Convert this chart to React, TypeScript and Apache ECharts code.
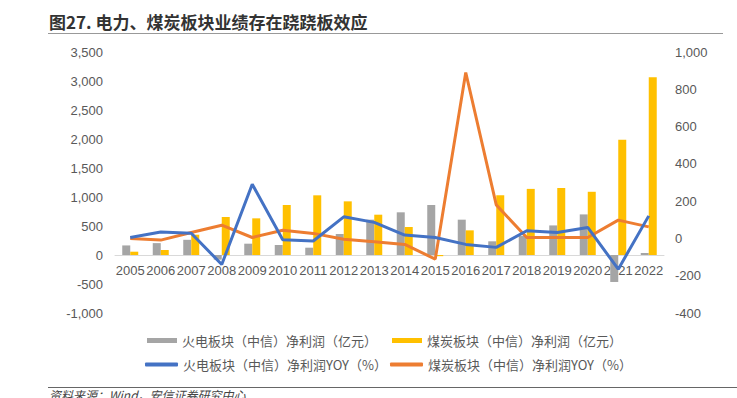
import React, { useEffect, useRef } from "react";
import * as echarts from "echarts";

const years = ["2005","2006","2007","2008","2009","2010","2011","2012","2013","2014","2015","2016","2017","2018","2019","2020","2021","2022"];
const thermalProfit = [165, 205, 262, -80, 195, 172, 126, 362, 609, 736, 862, 609, 236, 330, 510, 700, -465, 35];
const coalProfit = [57, 86, 350, 655, 632, 862, 1029, 925, 695, 483, -20, 425, 1030, 1140, 1155, 1090, 1985, 3065];
const thermalYoY = [5, 35, 28, -140, 291, -7, -14, 116, 86, 18, 5, -32, -48, 41, 32, 59, -165, 121];
const coalYoY = [0, -9, 32, 71, 5, 44, 27, -4, -18, -32, -111, 890, 180, 5, 5, 5, 98, 62];

const names = [
  "火电板块（中信）净利润（亿元）",
  "煤炭板块（中信）净利润（亿元）",
  "火电板块（中信）净利润YOY（%）",
  "煤炭板块（中信）净利润YOY（%）",
];
const colors = ["#A5A5A5", "#FFC000", "#4472C4", "#ED7D31"];

const fmt = (v: number) => v.toLocaleString("en-US");
const txt = "#595959";
const fontFamily = "'Liberation Sans', Arial, 'Noto Sans CJK SC', sans-serif";
const cjkFamily = "'Noto Sans CJK SC', sans-serif";

export default function App() {
  const ref = useRef<HTMLDivElement>(null);
  useEffect(() => {
    if (!ref.current) return;
    const chart = echarts.init(ref.current, undefined, { renderer: "svg" });
    const legendBase = {
      orient: "horizontal" as const,
      padding: 0,
      itemGap: 0,
      textStyle: { color: txt, fontSize: 13, fontFamily: cjkFamily },
    };
    const gridTop = 52;
    const gridBottom = 85;
    const gridHeight = 398 - gridTop - gridBottom;
    const zeroOffset = -Math.round((gridHeight * 1000) / 4500);
    chart.setOption({
      animation: false,
      backgroundColor: "#ffffff",
      textStyle: { fontFamily },
      grid: { left: 115, right: 73, top: gridTop, bottom: gridBottom, containLabel: false },
      legend: [
        { ...legendBase, data: [{ name: names[0], icon: "rect" }], left: 147, top: 334, itemWidth: 30, itemHeight: 5 },
        { ...legendBase, data: [{ name: names[1], icon: "rect" }], left: 392, top: 334, itemWidth: 30, itemHeight: 5 },
        { ...legendBase, data: [{ name: names[2], icon: "roundRect" }], left: 145, top: 358, itemWidth: 33, itemHeight: 4 },
        { ...legendBase, data: [{ name: names[3], icon: "roundRect" }], left: 390, top: 358, itemWidth: 33, itemHeight: 4 },
      ],
      xAxis: {
        type: "category",
        data: years,
        position: "bottom",
        offset: zeroOffset,
        axisLine: { onZero: false, lineStyle: { color: "#D9D9D9", width: 1 } },
        axisTick: { show: false },
        axisLabel: { color: txt, fontSize: 13, margin: 9, interval: 0, fontFamily },
        splitLine: { show: false },
      },
      yAxis: [
        {
          type: "value",
          min: -1000,
          max: 3500,
          interval: 500,
          axisLine: { show: false },
          axisTick: { show: false },
          splitLine: { show: false },
          axisLabel: { color: txt, fontSize: 13, margin: 12, formatter: fmt, fontFamily },
        },
        {
          type: "value",
          min: -400,
          max: 1000,
          interval: 200,
          position: "right",
          axisLine: { show: false },
          axisTick: { show: false },
          splitLine: { show: false },
          axisLabel: { color: txt, fontSize: 13, margin: 11, formatter: fmt, fontFamily },
        },
      ],
      graphic: [
        {
          type: "text",
          left: 49,
          top: 13,
          style: { text: "图27. 电力、煤炭板块业绩存在跷跷板效应", fill: "#333333", fontSize: 17, fontWeight: "bold", fontFamily: cjkFamily },
        },
        { type: "line", shape: { x1: 48, y1: 33.5, x2: 723, y2: 33.5 }, style: { stroke: "#999999", lineWidth: 1 } },
        { type: "line", shape: { x1: 48, y1: 387.5, x2: 737, y2: 387.5 }, style: { stroke: "#666666", lineWidth: 1 } },
        {
          type: "text",
          left: 49,
          top: 388,
          style: { text: "资料来源：Wind，安信证券研究中心", fill: "#444444", fontSize: 12, fontStyle: "italic", fontFamily: cjkFamily },
        },
      ],
      series: [
        { name: names[0], type: "bar", data: thermalProfit, yAxisIndex: 0, barWidth: 8, barGap: "0%", itemStyle: { color: colors[0] }, z: 2 },
        { name: names[1], type: "bar", data: coalProfit, yAxisIndex: 0, barWidth: 8, barGap: "0%", itemStyle: { color: colors[1] }, z: 2 },
        { name: names[2], type: "line", data: thermalYoY, yAxisIndex: 1, symbol: "none", lineStyle: { color: colors[2], width: 3 }, itemStyle: { color: colors[2] }, z: 4 },
        { name: names[3], type: "line", data: coalYoY, yAxisIndex: 1, symbol: "none", lineStyle: { color: colors[3], width: 3 }, itemStyle: { color: colors[3] }, z: 3 },
      ],
    });
    return () => chart.dispose();
  }, []);
  return <div ref={ref} style={{ position: "fixed", left: 0, top: 0, width: 737, height: 398 }} />;
}
